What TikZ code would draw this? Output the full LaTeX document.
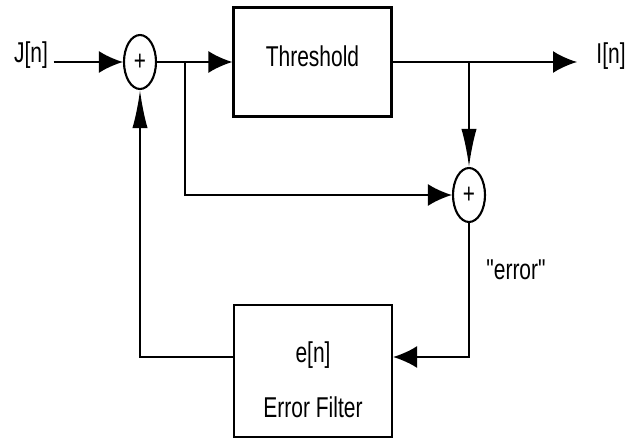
\documentclass[tikz,border=0pt]{standalone}
\usepackage{fontspec}
\setmainfont{Liberation Sans}
\usepackage{graphicx}
\usetikzlibrary{arrows.meta,positioning,shapes.geometric}
\newcommand{\sqz}[1]{\scalebox{0.82}[1.12]{#1}}
\tikzset{
  blk/.style={draw,line width=1.5pt,minimum width=3.95cm,inner sep=0pt},
  sumnode/.style={draw,ellipse,line width=1.5pt,minimum width=0.8cm,minimum height=1.35cm,inner sep=0pt,font=\fontsize{18}{18}\selectfont},
  lbl/.style={font=\fontsize{18.2}{20}\selectfont},
  harr/.style={-{Latex[length=6mm,width=5.5mm]}},
  varr/.style={-{Latex[length=9.5mm,width=3.8mm]}},
}

\begin{document}
\begin{tikzpicture}[x=0.025cm,y=-0.025cm,line width=1.5pt]
\useasboundingbox (0,0) rectangle (638,439);
\node[lbl] (jn) at (31,55) {\sqz{J[n]}};
\node[sumnode] (s1) at (140,62) {\sqz{+}};
\node[blk,lbl,minimum height=2.725cm] (thr) at (312.5,62) {\raisebox{0.3cm}{\sqz{Threshold}}};
\node[lbl] (in) at (611,56) {\sqz{I[n]}};
\coordinate (iend) at (577,62);
\coordinate (b1) at (185,62);
\coordinate (b2) at (469,62);
\node[sumnode] (s2) at (469,195) {\sqz{+}};
\node[lbl] (err) at (516,270) {\sqz{\textquotedbl error\textquotedbl}};
\node[blk,minimum height=3.3cm] (efl) at (313,371) {};
\node[lbl] (en) at (313,355) {\sqz{e[n]}};
\node[lbl] (eftxt) at (313,407) {\sqz{Error Filter}};
\coordinate (fb) at (469,357);
% forward path
\draw[harr] (jn.east |- s1) -- (s1.west);
\draw[harr] (s1.east) -- (thr.west);
\draw[harr] (thr.east) -- (iend);
\draw[varr] (b2) -- (s2.north);
\draw[harr] (b1) |- (s2.west);
% error feedback
\draw[harr] (s2.south) -- (fb) -- (fb -| efl.east);
\draw[varr] (efl.west |- fb) -| (s1.south);
\end{tikzpicture}
\end{document}
